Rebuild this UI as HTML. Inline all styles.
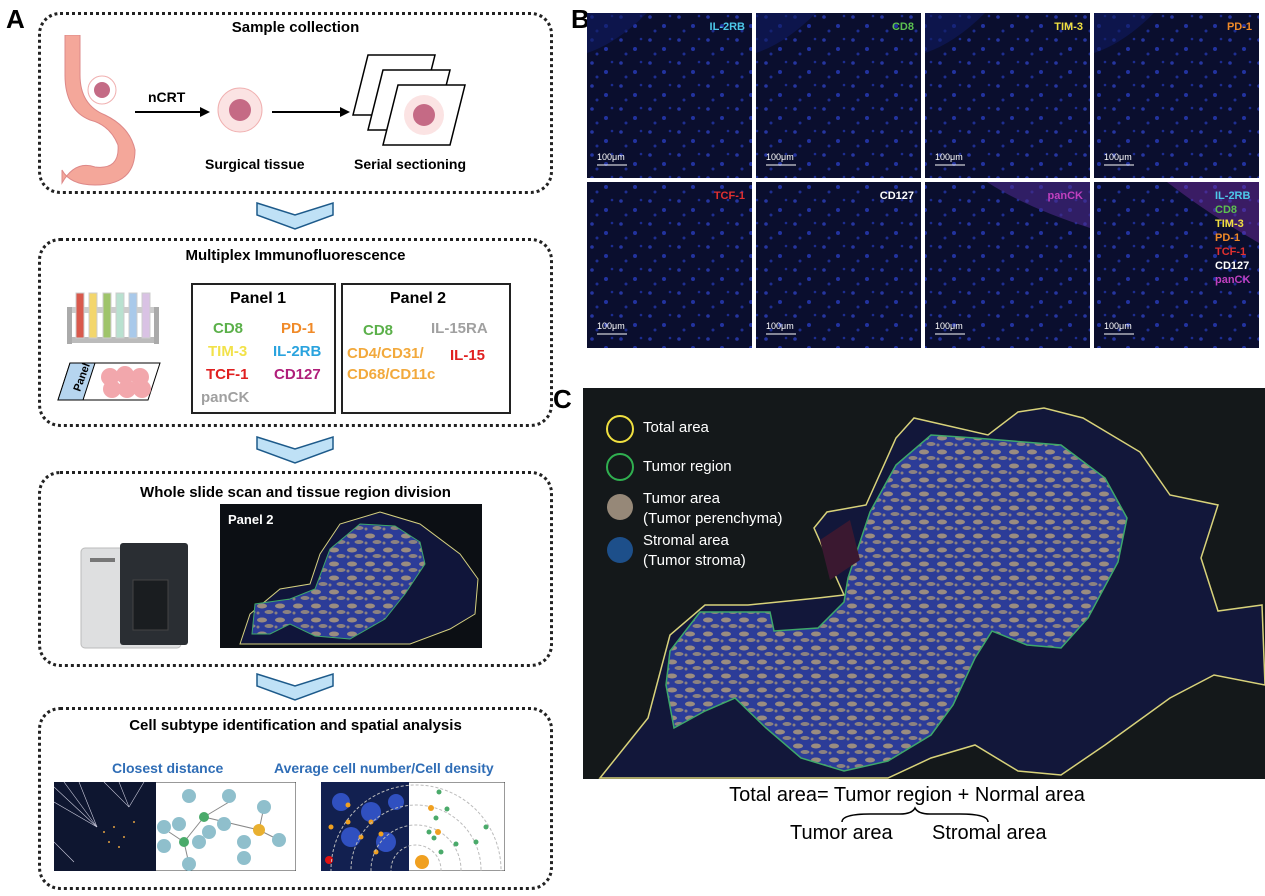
<!DOCTYPE html>
<html style="overflow:hidden"><head><meta charset="utf-8"><style>
html,body{margin:0;width:1265px;height:896px;overflow:hidden}
body{background:#fff;position:relative;font-family:"Liberation Sans",Arial,sans-serif}
.abs{position:absolute}
.box{position:absolute;border:3px dotted #222;border-radius:22px;box-sizing:border-box}
.t{position:absolute;font-weight:bold;white-space:nowrap}
</style></head><body>
<svg width="0" height="0" style="position:absolute"><defs>
<pattern id="dots" width="29" height="23" patternUnits="userSpaceOnUse">
<rect width="29" height="23" fill="#0a0e2e"/>
<circle cx="5" cy="4" r="1.8" fill="#2535a0"/><circle cx="19" cy="13" r="2" fill="#2232a0"/><circle cx="10" cy="18" r="1.5" fill="#1e2e90"/><circle cx="25" cy="3" r="1.3" fill="#1c2c90"/>
</pattern>
<pattern id="tum" width="18" height="14" patternUnits="userSpaceOnUse">
<rect width="18" height="14" fill="#2c3c98"/><ellipse cx="6" cy="4" rx="5" ry="2.5" fill="#9a8c80"/><ellipse cx="13" cy="10" rx="4.5" ry="2" fill="#8c8280"/><circle cx="2" cy="11" r="1.5" fill="#8c8280"/>
</pattern>
</defs></svg>

<div class="t" style="left:6px;top:4px;font-size:26px">A</div>
<div class="t" style="left:571px;top:4px;font-size:26px">B</div>
<div class="t" style="left:553px;top:384px;font-size:26px">C</div>

<!-- Box 1 -->
<div class="box" style="left:38px;top:12px;width:515px;height:182px"></div>
<div class="t" style="left:38px;width:515px;text-align:center;top:19px;font-size:15px">Sample collection</div>
<svg class="abs" style="left:50px;top:35px" width="440" height="155">
<path d="M30 0 L30 40 Q30 70 55 80 Q80 92 85 115 Q85 150 45 150 Q20 150 12 135 L12 148 Q25 125 45 132 Q70 135 68 110 Q60 90 40 85 Q15 75 15 40 L15 0 Z" fill="#f4a79a" stroke="#d88"/>
<circle cx="52" cy="55" r="14" fill="none" stroke="#f0b0b0"/><circle cx="52" cy="55" r="8" fill="#c46b85"/>
<line x1="85" y1="77" x2="150" y2="77" stroke="#000" stroke-width="2"/><polygon points="150,72 160,77 150,82"/>
<text x="98" y="67" font-weight="bold" font-size="14" font-family="Liberation Sans">nCRT</text>
<circle cx="190" cy="75" r="22" fill="#fbe3e3" stroke="#f0b0b0"/><circle cx="190" cy="75" r="11" fill="#c56a85"/>
<line x1="222" y1="77" x2="290" y2="77" stroke="#000" stroke-width="2"/><polygon points="290,72 300,77 290,82"/>
<g stroke="#000" stroke-width="1.5" fill="#fff">
<polygon points="318,20 385,20 370,80 303,80"/><polygon points="333,35 400,35 385,95 318,95"/><polygon points="348,50 415,50 400,110 333,110"/></g>
<circle cx="374" cy="80" r="20" fill="#fbe3e3"/><circle cx="374" cy="80" r="11" fill="#c56a85"/>
</svg>
<div class="t" style="left:205px;top:156px;font-size:14px">Surgical tissue</div>
<div class="t" style="left:354px;top:156px;font-size:14px">Serial sectioning</div>

<svg class="abs" style="left:255px;top:201px" width="80" height="30"><polygon points="2,2 40,14 78,2 78,14 40,28 2,14" fill="#bfe1f6" stroke="#1d5a8a" stroke-width="1.5"/></svg>
<svg class="abs" style="left:255px;top:435px" width="80" height="30"><polygon points="2,2 40,14 78,2 78,14 40,28 2,14" fill="#bfe1f6" stroke="#1d5a8a" stroke-width="1.5"/></svg>
<svg class="abs" style="left:255px;top:672px" width="80" height="30"><polygon points="2,2 40,14 78,2 78,14 40,28 2,14" fill="#bfe1f6" stroke="#1d5a8a" stroke-width="1.5"/></svg>

<!-- Box 2 -->
<div class="box" style="left:38px;top:238px;width:515px;height:189px"></div>
<div class="t" style="left:38px;width:515px;text-align:center;top:247px;font-size:15px">Multiplex Immunofluorescence</div>
<svg class="abs" style="left:50px;top:285px" width="130" height="125">
<rect x="17" y="22" width="92" height="6" fill="#ccc"/><rect x="17" y="52" width="92" height="6" fill="#bbb"/><rect x="17" y="22" width="5" height="37" fill="#aaa"/><rect x="104" y="22" width="5" height="37" fill="#aaa"/>
<g stroke="#ccc"><rect x="26" y="8" width="8" height="45" fill="#d9594c"/><rect x="39" y="8" width="8" height="45" fill="#f3d66c"/><rect x="53" y="8" width="8" height="45" fill="#9fc46a"/><rect x="66" y="8" width="8" height="45" fill="#b9e1d0"/><rect x="79" y="8" width="8" height="45" fill="#a9c9ea"/><rect x="92" y="8" width="8" height="45" fill="#d9c2e4"/></g>
<polygon points="20,78 110,78 98,115 8,115" fill="#fff" stroke="#000"/><polygon points="20,78 45,78 33,115 8,115" fill="#b6d5ef" stroke="#000"/>
<text x="18" y="110" font-size="11" font-weight="bold" transform="rotate(-70 22 100)">Panel</text>
<g fill="#f2a7ac"><circle cx="60" cy="92" r="9"/><circle cx="75" cy="90" r="9"/><circle cx="90" cy="92" r="9"/><circle cx="62" cy="104" r="9"/><circle cx="77" cy="104" r="9"/><circle cx="92" cy="104" r="9"/></g>
</svg>
<div class="abs" style="left:191px;top:283px;width:145px;height:131px;border:2px solid #222;box-sizing:border-box"></div>
<div class="abs" style="left:341px;top:283px;width:170px;height:131px;border:2px solid #222;box-sizing:border-box"></div>
<div class="t" style="left:230px;top:290px;font-size:16px">Panel 1</div>
<div class="t" style="left:390px;top:290px;font-size:16px">Panel 2</div>
<div class="t" style="left:213px;top:320px;font-size:15px;color:#5bb04a">CD8</div>
<div class="t" style="left:281px;top:320px;font-size:15px;color:#f08a28">PD-1</div>
<div class="t" style="left:208px;top:343px;font-size:15px;color:#f2e24a">TIM-3</div>
<div class="t" style="left:273px;top:343px;font-size:15px;color:#2aa3de">IL-2RB</div>
<div class="t" style="left:206px;top:366px;font-size:15px;color:#e02020">TCF-1</div>
<div class="t" style="left:274px;top:366px;font-size:15px;color:#b01e7a">CD127</div>
<div class="t" style="left:201px;top:389px;font-size:15px;color:#a0a0a0">panCK</div>
<div class="t" style="left:363px;top:322px;font-size:15px;color:#5bb04a">CD8</div>
<div class="t" style="left:431px;top:320px;font-size:15px;color:#a0a0a0">IL-15RA</div>
<div class="t" style="left:347px;top:345px;font-size:15px;color:#f2a93c">CD4/CD31/</div>
<div class="t" style="left:450px;top:347px;font-size:15px;color:#e02020">IL-15</div>
<div class="t" style="left:347px;top:366px;font-size:15px;color:#f2a93c">CD68/CD11c</div>

<!-- Box 3 -->
<div class="box" style="left:38px;top:471px;width:515px;height:196px"></div>
<div class="t" style="left:38px;width:515px;text-align:center;top:484px;font-size:15px">Whole slide scan and tissue region division</div>
<svg class="abs" style="left:78px;top:540px" width="115" height="115">
<rect x="3" y="8" width="100" height="100" rx="4" fill="#dedfe0" stroke="#bbb"/>
<rect x="42" y="3" width="68" height="102" rx="3" fill="#2a2e33"/><rect x="55" y="40" width="35" height="50" fill="#1a1d20" stroke="#444"/>
<rect x="12" y="18" width="25" height="4" fill="#777"/>
</svg>
<svg class="abs" style="left:220px;top:504px" width="262" height="144">
<rect width="262" height="144" fill="#0c0f14"/>
<path d="M20 140 L30 110 L60 85 L90 80 L100 50 L120 20 L160 8 L200 20 L240 50 L258 75 L255 110 L230 125 L190 140 Z" fill="#10153a" stroke="#d5d080" stroke-width="1"/>
<path d="M32 130 L35 100 L70 95 L95 85 L110 45 L140 20 L175 22 L200 38 L205 60 L185 90 L165 115 L130 135 L95 132 L70 120 L50 130 Z" fill="url(#tum)" stroke="#3ea86a"/>
<text x="8" y="20" fill="#fff" font-weight="bold" font-size="13" font-family="Liberation Sans">Panel 2</text>
</svg>

<!-- Box 4 -->
<div class="box" style="left:38px;top:707px;width:515px;height:183px"></div>
<div class="t" style="left:38px;width:515px;text-align:center;top:717px;font-size:15px">Cell subtype identification and spatial analysis</div>
<div class="t" style="left:112px;top:760px;font-size:14px;color:#2f6db6">Closest distance</div>
<div class="t" style="left:274px;top:760px;font-size:14px;color:#2f6db6">Average cell number/Cell density</div>
<svg class="abs" style="left:54px;top:782px" width="242" height="89">
<rect width="242" height="89" fill="#fff" stroke="#333"/>
<rect width="102" height="89" fill="#0e1630"/>
<g stroke="#ccd" stroke-width="0.6"><line x1="43" y1="45" x2="0" y2="5"/><line x1="43" y1="45" x2="10" y2="0"/><line x1="43" y1="45" x2="25" y2="0"/><line x1="43" y1="45" x2="0" y2="20"/><line x1="75" y1="25" x2="50" y2="0"/><line x1="75" y1="25" x2="65" y2="0"/><line x1="75" y1="25" x2="90" y2="0"/><line x1="20" y1="80" x2="0" y2="60"/></g>
<g fill="#e0a040"><circle cx="50" cy="50" r="1"/><circle cx="60" cy="45" r="1"/><circle cx="55" cy="60" r="1"/><circle cx="70" cy="55" r="1"/><circle cx="80" cy="40" r="1"/><circle cx="65" cy="65" r="1"/></g>
<g stroke="#888"><line x1="150" y1="35" x2="175" y2="20"/><line x1="130" y1="60" x2="150" y2="35"/><line x1="150" y1="35" x2="205" y2="48"/><line x1="130" y1="60" x2="115" y2="50"/><line x1="130" y1="60" x2="135" y2="82"/><line x1="205" y1="48" x2="225" y2="58"/><line x1="205" y1="48" x2="210" y2="25"/></g>
<g fill="#8fbfcc"><circle cx="135" cy="14" r="7"/><circle cx="175" cy="14" r="7"/><circle cx="125" cy="42" r="7"/><circle cx="155" cy="50" r="7"/><circle cx="170" cy="42" r="7"/><circle cx="110" cy="45" r="7"/><circle cx="110" cy="64" r="7"/><circle cx="145" cy="60" r="7"/><circle cx="190" cy="60" r="7"/><circle cx="225" cy="58" r="7"/><circle cx="210" cy="25" r="7"/><circle cx="135" cy="82" r="7"/><circle cx="190" cy="76" r="7"/></g>
<circle cx="150" cy="35" r="5" fill="#4aaa6a"/><circle cx="130" cy="60" r="5" fill="#4aaa6a"/><circle cx="205" cy="48" r="6" fill="#e9b030"/>
</svg>
<svg class="abs" style="left:321px;top:782px" width="184" height="89">
<rect width="184" height="89" fill="#fff" stroke="#333"/>
<rect width="88" height="89" fill="#122050"/>
<g fill="#3050c0"><circle cx="20" cy="20" r="9"/><circle cx="50" cy="30" r="10"/><circle cx="30" cy="55" r="10"/><circle cx="65" cy="60" r="10"/><circle cx="75" cy="20" r="8"/></g>
<g fill="#f0a020"><circle cx="27" cy="23" r="2.5"/><circle cx="27" cy="40" r="2.5"/><circle cx="50" cy="40" r="2.5"/><circle cx="10" cy="45" r="2.5"/><circle cx="40" cy="55" r="2.5"/><circle cx="60" cy="52" r="2.5"/><circle cx="55" cy="70" r="2.5"/></g>
<circle cx="8" cy="78" r="4" fill="#e01010"/>
<g fill="none" stroke="#bbb" stroke-dasharray="3,2"><circle cx="95" cy="88" r="25"/><circle cx="95" cy="88" r="45"/><circle cx="95" cy="88" r="65"/><circle cx="95" cy="88" r="85"/></g>
<circle cx="101" cy="80" r="7" fill="#f0a020"/>
<g fill="#4aaa6a"><circle cx="118" cy="10" r="2.5"/><circle cx="126" cy="27" r="2.5"/><circle cx="115" cy="36" r="2.5"/><circle cx="108" cy="50" r="2.5"/><circle cx="113" cy="56" r="2.5"/><circle cx="135" cy="62" r="2.5"/><circle cx="155" cy="60" r="2.5"/><circle cx="165" cy="45" r="2.5"/><circle cx="120" cy="70" r="2.5"/></g>
<circle cx="110" cy="26" r="3" fill="#f0a020"/><circle cx="117" cy="50" r="3" fill="#f0a020"/>
</svg>

<!-- B grid -->
<svg class="abs" style="left:587px;top:13px" width="672" height="335">
<rect width="672" height="335" fill="#fff"/>
<g fill="url(#dots)">
<rect x="0" y="0" width="165" height="165"/><rect x="169" y="0" width="165" height="165"/><rect x="338" y="0" width="165" height="165"/><rect x="507" y="0" width="165" height="165"/>
<rect x="0" y="169" width="165" height="166"/><rect x="169" y="169" width="165" height="166"/><rect x="338" y="169" width="165" height="166"/><rect x="507" y="169" width="165" height="166"/>
</g>
<path d="M0 0 L60 0 Q30 30 0 40Z M169 0 L229 0 Q199 30 169 40Z M338 0 L398 0 Q368 30 338 40Z M507 0 L567 0 Q537 30 507 40Z" fill="#0f1a60" opacity="0.6"/>
<path d="M338 169 L503 169 L503 215 Q440 195 400 169Z" fill="#4a2a8a" opacity="0.6"/>
<path d="M580 169 L672 169 L672 230 Q620 200 580 169Z" fill="#6a2a9a" opacity="0.5"/>
<g fill="#fff" font-family="Liberation Sans" font-size="9"><text x="10" y="147">100μm</text><text x="179" y="147">100μm</text><text x="348" y="147">100μm</text><text x="517" y="147">100μm</text><text x="10" y="316">100μm</text><text x="179" y="316">100μm</text><text x="348" y="316">100μm</text><text x="517" y="316">100μm</text></g>
<g stroke="#fff"><line x1="10" y1="152" x2="40" y2="152"/><line x1="179" y1="152" x2="209" y2="152"/><line x1="348" y1="152" x2="378" y2="152"/><line x1="517" y1="152" x2="547" y2="152"/><line x1="10" y1="321" x2="40" y2="321"/><line x1="179" y1="321" x2="209" y2="321"/><line x1="348" y1="321" x2="378" y2="321"/><line x1="517" y1="321" x2="547" y2="321"/></g>
<g font-family="Liberation Sans" font-size="11" font-weight="bold" text-anchor="end">
<text x="158" y="17" fill="#4dc8e8">IL-2RB</text><text x="327" y="17" fill="#5cc050">CD8</text><text x="496" y="17" fill="#f0e040">TIM-3</text><text x="665" y="17" fill="#f08a28">PD-1</text>
<text x="158" y="186" fill="#e03030">TCF-1</text><text x="327" y="186" fill="#fff">CD127</text><text x="496" y="186" fill="#c040c0">panCK</text>
</g>
<g font-family="Liberation Sans" font-size="11" font-weight="bold">
<text x="628" y="186" fill="#4dc8e8">IL-2RB</text><text x="628" y="200" fill="#5cc050">CD8</text><text x="628" y="214" fill="#f0e040">TIM-3</text><text x="628" y="228" fill="#f08a28">PD-1</text><text x="628" y="242" fill="#e03030">TCF-1</text><text x="628" y="256" fill="#fff">CD127</text><text x="628" y="270" fill="#c040c0">panCK</text>
</g>
</svg>

<!-- C image -->
<svg class="abs" style="left:583px;top:388px" width="682" height="391">
<rect width="682" height="391" fill="#14181a"/>
<g transform="translate(-583,-388)">
<path d="M600,778 L648,718 L670,635 L705,605 L748,605 L818,598 L844,595 L814,528 L827,512 L866,505 L896,438 L914,418 L988,435 L1018,412 L1044,408 L1083,418 L1140,452 L1170,495 L1218,505 L1201,558 L1218,611 L1262,605 L1265,685 L1214,675 L1170,698 L1105,745 L1061,775 L1018,771 L975,745 L931,758 L888,778 Z" fill="#12173a" stroke="#d8d27a" stroke-width="1.5"/>
<path d="M700,612 L770,612 L774,631 L818,628 L844,602 L848,578 L870,512 L896,465 L931,435 L975,438 L1061,445 L1105,478 L1127,518 L1118,562 L1088,618 L1061,648 L1027,645 L992,631 L975,658 L953,705 L931,735 L888,761 L844,771 L801,758 L766,728 L735,698 L705,711 L674,728 L666,685 L670,651 Z" fill="url(#tum)" stroke="#3ea86a" stroke-width="1.5"/>
<path d="M820,540 L850,520 L860,560 L830,580 Z" fill="#3a1830"/>
</g>
<g font-family="Liberation Sans" font-size="15" fill="#fff">
<circle cx="37" cy="41" r="13" fill="none" stroke="#f0e040" stroke-width="2"/><text x="60" y="44">Total area</text>
<circle cx="37" cy="79" r="13" fill="none" stroke="#30b050" stroke-width="2"/><text x="60" y="83">Tumor  region</text>
<circle cx="37" cy="119" r="13" fill="#968878"/><text x="60" y="115">Tumor area</text><text x="60" y="135">(Tumor perenchyma)</text>
<circle cx="37" cy="162" r="13" fill="#1d4f8a"/><text x="60" y="157">Stromal area</text><text x="60" y="177">(Tumor stroma)</text>
</g>
</svg>
<div class="abs" style="left:583px;width:648px;text-align:center;top:784px;font-size:20px;white-space:nowrap">Total area= Tumor region + Normal area</div>
<svg class="abs" style="left:840px;top:806px" width="150" height="20"><path d="M2 16 Q2 8 30 8 L60 8 Q72 8 75 2 Q78 8 90 8 L120 8 Q148 8 148 16" fill="none" stroke="#000" stroke-width="1.5"/></svg>
<div class="abs" style="left:790px;top:822px;font-size:20px;white-space:nowrap">Tumor area</div>
<div class="abs" style="left:932px;top:822px;font-size:20px;white-space:nowrap">Stromal area</div>
</body></html>
